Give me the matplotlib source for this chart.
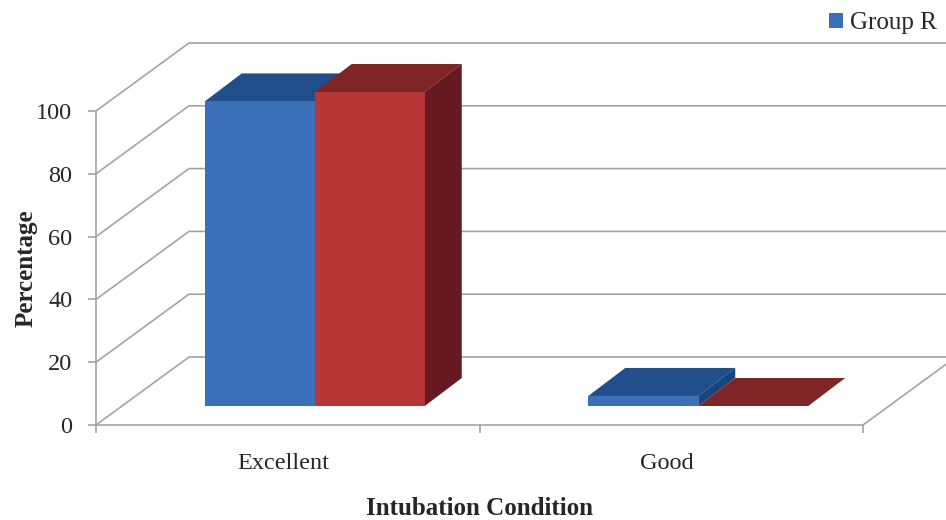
import matplotlib
matplotlib.use('Agg')
import matplotlib.pyplot as plt
from matplotlib.patches import Polygon

#values
categories = ['Excellent', 'Good']
group_r = [97, 3.2]
group_2 = [100, 0]
y_ticks = [0, 20, 40, 60, 80, 100]

plt.rcParams['font.family'] = ['Liberation Serif', 'DejaVu Serif']
text_color = '#262626'
line_color = '#a3a3a3'

fig = plt.figure(figsize=(9.46, 5.2), dpi=100)
ax = fig.add_axes([96 / 946, 95 / 520, 767 / 946, 314 / 520])
ax.set_xlim(-0.5, 1.5)
ax.set_ylim(0, 100)

#size of one pixel in data units, the 3d look is done with pixel offsets
px_x = 2 / 767
px_y = 100 / 314
right_edge = -0.5 + 850 * px_x

#side wall, back wall and floor
wall_dx = 93 * px_x
wall_dy = 68 * px_y
for v in y_ticks:
    ax.plot([-0.5, -0.5 + wall_dx, right_edge], [v, v + wall_dy, v + wall_dy],
            color=line_color, lw=1.2, clip_on=False, zorder=1)
ax.plot([1.5, 1.5 + wall_dx], [0, wall_dy], color=line_color, lw=1.2, clip_on=False, zorder=1)

#bars sit part way into the floor
shift_x = 27 * px_x
shift_y = 19 * px_y
depth_x = 37 * px_x
depth_y = 28 * px_y
bar_w = 110 * px_x


def draw_bars(xs, values, front, top, side, z, label=None):
    bars = ax.bar(xs, values, bar_w, bottom=shift_y, color=front, label=label,
                  clip_on=False, zorder=z + 0.2)
    for x, v in zip(xs, values):
        x0, x1 = x - bar_w / 2, x + bar_w / 2
        y0, y1 = shift_y, shift_y + v
        ax.add_patch(Polygon([(x0, y1), (x1, y1), (x1 + depth_x, y1 + depth_y), (x0 + depth_x, y1 + depth_y)],
                             facecolor=top, edgecolor='none', clip_on=False, zorder=z))
        ax.add_patch(Polygon([(x1, y0), (x1, y1), (x1 + depth_x, y1 + depth_y), (x1 + depth_x, y0 + depth_y)],
                             facecolor=side, edgecolor='none', clip_on=False, zorder=z))
    return bars


pos_blue = [i + shift_x - bar_w / 2 for i in range(len(categories))]
pos_red = [i + shift_x + bar_w / 2 for i in range(len(categories))]
draw_bars(pos_blue, group_r, '#3a70b8', '#1f4e8a', '#16457f', 3, label='Group R')
draw_bars(pos_red, group_2, '#b73739', '#7f2525', '#66191e', 4)

#axes
for s in ['top', 'right']:
    ax.spines[s].set_visible(False)
for s in ['left', 'bottom']:
    ax.spines[s].set_color(line_color)
    ax.spines[s].set_linewidth(1.2)
ax.set_yticks(y_ticks)
ax.set_xticks([-0.5, 0.5, 1.5])
ax.set_xticklabels([])
#category names sit a little left of the middle of their slot
ax.set_xticks([i - 4 * px_x for i in range(len(categories))], labels=categories, minor=True)
ax.tick_params(axis='x', which='major', length=6, width=1.2, color=line_color)
ax.tick_params(axis='x', which='minor', length=0, pad=20, labelsize=17.5, labelcolor=text_color)
ax.tick_params(axis='y', length=6, width=1.2, color=line_color, pad=11, labelsize=17.5, labelcolor=text_color)
ax.set_xlabel('Intubation Condition', fontsize=18, fontweight='bold', color=text_color, labelpad=17)
ax.set_ylabel('Percentage', fontsize=18, fontweight='bold', color=text_color, labelpad=-1)

#legend runs off the right side in the original
ax.legend(loc='center left', bbox_to_anchor=(829 / 946, 497 / 520), bbox_transform=fig.transFigure,
          frameon=False, fontsize=18, labelcolor=text_color, handlelength=0.55, handleheight=0.55,
          handletextpad=0.3, borderpad=0, borderaxespad=0)

fig.savefig('out.png', dpi=100)
